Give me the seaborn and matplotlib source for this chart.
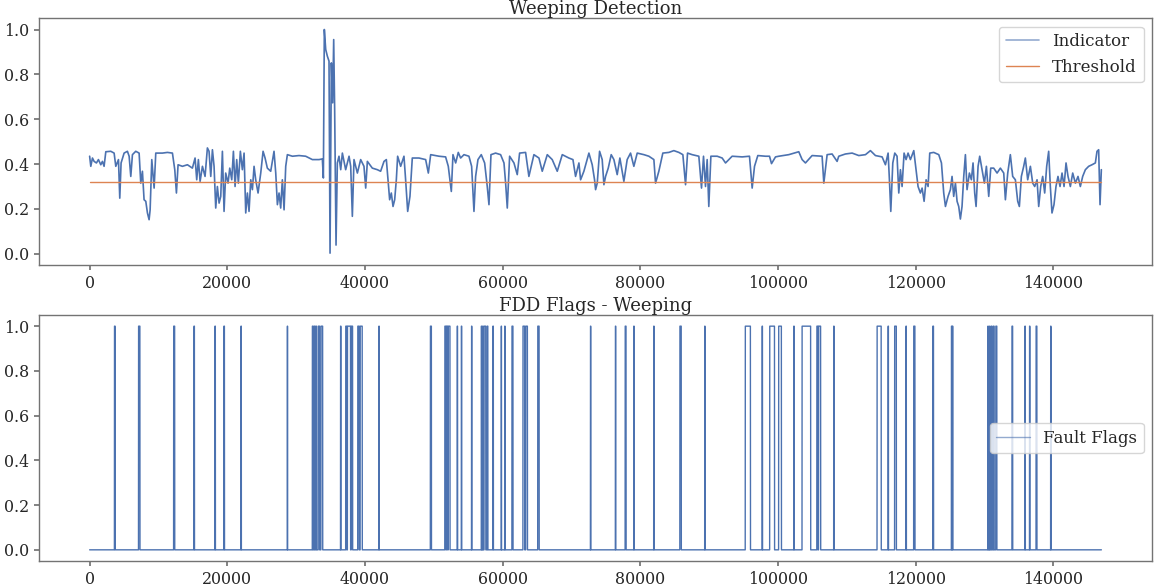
import numpy as np
import pandas as pd
import matplotlib
matplotlib.use("Agg")
import matplotlib.pyplot as plt
import seaborn as sns

# ---------------- data ----------------
N_SAMPLES = 147000
THRESHOLD = 0.32

# indicator sample positions (thousands of samples) and values
ind_x_k = [
    0, 0.17, 0.41, 0.65, 0.99, 1.28, 1.62, 1.86, 2.1, 2.35, 3.07, 3.56, 3.8, 4.19, 4.38, 4.57,
    5.01, 5.49, 5.74, 5.98, 6.22, 6.7, 7.19, 7.43, 7.67, 7.91, 8.16, 8.4, 8.64, 8.79, 9.03,
    9.37, 9.61, 10.58, 11.3, 12.03, 12.37, 12.61, 12.85, 13.48, 14.21, 14.93, 15.32, 15.56,
    15.8, 16.05, 16.39, 16.77, 17.11, 17.35, 17.6, 17.84, 18.08, 18.32, 18.56, 18.81, 19.05,
    19.29, 19.53, 19.77, 20.11, 20.36, 20.65, 20.89, 21.13, 21.37, 21.61, 21.9, 22.19, 22.44,
    22.68, 22.92, 23.16, 23.41, 23.65, 23.89, 24.13, 24.47, 24.86, 25.2, 25.49, 25.82, 26.31,
    26.79, 27.04, 27.28, 27.52, 27.76, 28.0, 28.25, 28.49, 28.73, 29.46, 30.42, 31.39, 32.36,
    33.33, 33.81, 33.96, 34.10, 34.30, 34.54, 34.78, 34.93, 35.12, 35.31, 35.46, 35.60, 35.80,
    35.99, 36.23, 36.48,
    36.72, 37.2, 37.69, 37.93, 38.17, 38.41, 38.9, 39.38, 39.86, 40.11, 40.35, 41.07, 41.8,
    42.28, 42.77, 43.11, 43.35, 43.59, 43.83, 44.08, 44.32, 44.56, 44.75, 45.19, 45.67, 45.91,
    46.21, 46.54, 46.88, 47.85, 48.82, 49.21, 49.55, 50.76, 51.72, 52.11, 52.35, 52.55, 52.79,
    53.18, 53.56, 53.9, 54.39, 55.11, 55.5, 55.84, 56.08, 56.42, 56.9, 57.39, 57.77, 58.02,
    58.31, 58.98, 59.71, 60.2, 60.44, 60.68, 61.02, 61.65, 62.13, 62.47, 63.34, 63.82, 64.55,
    65.28, 65.76, 66.49, 67.21, 67.94, 68.67, 69.63, 70.22, 70.6, 71.09,
    71.33, 71.81, 72.54, 73.02, 73.36, 73.51, 73.75, 74.09, 74.47, 74.72, 74.96, 75.35, 75.78,
    76.17, 76.65, 77.04, 77.62, 78.1, 78.59, 79.07, 79.56, 80.53, 81.25, 81.98, 82.22, 82.7,
    83.28, 84.16, 84.88, 85.61, 86.19, 86.58, 86.87, 87.54, 88.51, 88.9, 89.19, 89.48, 89.72,
    89.96, 90.26, 91.18, 91.9, 92.39, 92.87, 93.35, 94.81, 95.87, 96.26, 96.6, 97.08, 98.2,
    98.78, 99.07, 99.65, 100.13, 101.58, 103.03, 103.52, 104.0, 104.97, 106.42, 106.67, 107.15,
    107.87, 108.6,
    108.84, 109.81, 110.78, 111.75, 112.72, 113.44, 114.17, 115.14, 115.62, 116.01, 116.2,
    116.4, 116.69, 116.98, 117.31, 117.56, 117.8, 118.04, 118.33, 118.62, 118.91, 119.25,
    119.74, 120.12, 120.36, 120.7, 120.95, 121.24, 121.53, 121.82, 122.06, 122.64, 123.37,
    123.76, 124.09, 124.34, 124.72, 125.06, 125.3, 125.54, 125.79, 126.03, 126.27, 126.51,
    126.75, 127.0, 127.24, 127.48, 127.82, 128.11, 128.35, 128.59, 128.79, 129.08, 129.32,
    129.66, 130.0, 130.29, 130.63, 130.92, 131.35, 131.84, 132.32, 132.81, 133.05, 133.39,
    133.77, 134.11, 134.5, 134.84, 135.08, 135.37, 135.71, 135.95, 136.29, 136.68, 137.02,
    137.31, 137.65, 137.89, 138.18, 138.47, 138.76, 139.05, 139.34, 139.58, 139.82, 140.11,
    140.4, 140.69, 140.99, 141.28, 141.57, 141.86, 142.15, 142.49, 142.83, 143.22, 143.6,
    143.94, 144.28, 144.67, 145.15, 145.63, 146.12, 146.36, 146.6, 146.8, 146.99,
]
ind_vals = [
    .435, .39, .427, .412, .405, .42, .397, .412, .39, .455, .457, .449, .39, .42, .248, .405,
    .449, .457, .435, .345, .442, .457, .449, .315, .368, .241, .234, .182, .152, .196, .42,
    .293, .449, .449, .452, .449, .375, .271, .397, .39, .397, .382, .427, .33,
    .42, .323, .39, .345, .472, .457, .345, .464, .39, .204, .30, .226, .256,
    .457, .189, .36, .315, .382, .33, .457, .30, .42, .315, .457, .375, .449,
    .182, .271, .189, .33, .286, .39, .33, .271, .36, .457, .427, .382, .368,
    .457, .36, .219, .271, .204, .33, .196, .39, .442, .435, .438, .435, .42,
    .42, .423, .338, 1.0, .911, .881, .859, .003, .851, .673, .955, .643, .039,
    .405, .435, .375,
    .449, .375, .435, .39, .167, .42, .36, .42, .39, .293, .412, .382, .375,
    .368, .412, .42, .33, .241, .271, .211, .241, .33, .435, .39, .435, .33,
    .189, .256, .427, .427, .42, .36, .442, .435, .432, .39, .33, .278, .442,
    .405, .452, .427, .442, .435, .39, .189, .345, .42, .442, .405, .30, .219,
    .442, .449, .442, .405, .315, .204, .435, .405, .353, .449, .452, .345, .442,
    .427, .368, .442, .42, .368, .442, .427, .42, .345, .405,
    .33, .368, .449, .397, .33, .286, .315, .457, .42, .308, .345, .382, .442,
    .42, .353, .427, .323, .42, .449, .39, .449, .442, .435, .42, .315, .368,
    .449, .452, .46, .452, .442, .308, .449, .442, .435, .293, .435, .30, .42,
    .211, .435, .435, .427, .405, .42, .435, .432, .435, .293, .39, .438, .435,
    .435, .402, .432, .435, .442, .455, .42, .405, .438, .435, .315, .442,
    .445, .412,
    .435, .445, .449, .438, .442, .46, .438, .432, .397, .449, .33,
    .189, .405, .449, .435, .271, .375, .30, .449, .42, .449, .42,
    .46, .36, .30, .271, .293, .234, .33, .30, .449, .452, .442,
    .405, .271, .211, .256, .286, .345, .256, .315, .234, .211, .155,
    .211, .345, .442, .286, .36, .33, .405, .271, .211, .39, .435,
    .375, .315, .39, .256, .382, .382, .36, .382, .36, .241, .36,
    .442, .345, .33, .234, .211, .345, .39, .427, .33, .39, .315,
    .30, .33, .211, .30, .345, .271, .39, .457, .30, .182, .219,
    .30, .345, .30, .36, .30, .405, .345, .30, .36, .315, .345,
    .30, .345, .375, .39, .397, .405, .457, .464, .219, .375,
]

# fault-flag intervals (thousands of samples) where the flag equals 1
flag_start_k = [
    3.6, 7.1, 12.2, 15.15, 18.2, 19.5, 21.98, 28.72, 32.35, 32.6, 32.85, 33.2, 33.6, 36.45,
    37.2, 37.45, 38.0, 38.95, 39.3, 42.02, 49.5, 51.6, 51.85, 52.1, 53.4, 54.0, 55.48, 56.9,
    57.1, 57.3, 57.75, 58.58, 59.8, 60.3, 61.35, 62.95, 63.35, 65.1, 72.76, 76.38, 77.8, 79.05,
    81.95, 85.75, 89.36, 95.25, 97.7, 98.8, 100.1, 102.3, 103.5, 105.65, 105.9, 108.1, 114.4,
    116.0, 116.95, 118.6, 119.72, 122.5, 125.2, 125.35, 130.5, 130.75, 131.0, 131.3, 131.65,
    134.0, 135.88, 136.55, 137.5, 139.62,
]
flag_end_k = [
    3.7, 7.3, 12.35, 15.22, 18.26, 19.58, 22.03, 28.75, 32.45, 32.7, 32.95, 33.4, 33.85, 36.5,
    37.35, 37.9, 38.2, 39.15, 39.6, 42.06, 49.65, 51.75, 52.0, 52.35, 53.45, 54.05, 55.52, 56.95,
    57.15, 57.55, 57.85, 58.65, 59.83, 60.35, 61.5, 63.2, 63.6, 65.3, 72.8, 76.43, 77.93, 79.1,
    82.0, 85.95, 89.4, 96.0, 97.75, 99.5, 100.5, 102.35, 104.75, 105.8, 106.2, 108.15, 115.0,
    116.05, 117.2, 118.65, 119.9, 122.6, 125.25, 125.4, 130.55, 130.8, 131.1, 131.4, 131.8,
    134.1, 135.93, 136.6, 137.62, 139.66,
]

# ---------------- style ----------------
sns.set_theme(style="ticks")
plt.rcParams["font.family"] = ["DejaVu Serif"]
plt.rcParams.update({
    "axes.edgecolor": "0.45",
    "xtick.color": "0.45",
    "ytick.color": "0.45",
    "xtick.labelcolor": "0.15",
    "ytick.labelcolor": "0.15",
    "xtick.major.size": 3.5,
    "ytick.major.size": 3.5,
    "axes.linewidth": 1.0,
})
FS_TICK = 11.4
FS_TITLE = 13
FS_LEG = 12
blue, orange = sns.color_palette("deep")[0], sns.color_palette("deep")[1]

# ---------------- frames ----------------
ind_df = pd.DataFrame({"sample": np.array(ind_x_k) * 1000, "value": ind_vals})
thr_df = pd.DataFrame({"sample": [0, N_SAMPLES - 1], "value": [THRESHOLD, THRESHOLD]})

flags = np.zeros(N_SAMPLES)
for s, e in zip(flag_start_k, flag_end_k):
    flags[int(s * 1000):int(e * 1000) + 1] = 1.0
flag_df = pd.DataFrame({"sample": np.arange(N_SAMPLES), "flag": flags})

# ---------------- figure ----------------
fig = plt.figure(figsize=(11.55, 5.88), dpi=100)
ax1 = fig.add_axes([0.0338, 0.5493, 0.9636, 0.4196])
ax2 = fig.add_axes([0.0338, 0.0459, 0.9636, 0.4184])

sns.lineplot(data=ind_df, x="sample", y="value", ax=ax1, color=blue, lw=1.2,
             label="Indicator", estimator=None, sort=False)
sns.lineplot(data=thr_df, x="sample", y="value", ax=ax1, color=orange, lw=1.0,
             label="Threshold", estimator=None)
ax1.set_title("Weeping Detection", fontsize=FS_TITLE, pad=2)
leg1 = ax1.legend(loc="upper right", fontsize=FS_LEG, frameon=True)
leg1.get_lines()[0].set_alpha(0.6)

sns.lineplot(data=flag_df, x="sample", y="flag", ax=ax2, color=blue, lw=1.0,
             label="Fault Flags", estimator=None, sort=False)
ax2.set_title("FDD Flags - Weeping", fontsize=FS_TITLE, pad=2)
leg2 = ax2.legend(loc="center right", fontsize=FS_LEG, frameon=True)
leg2.get_lines()[0].set_alpha(0.6)

for ax in (ax1, ax2):
    ax.set_xlabel("")
    ax.set_ylabel("")
    ax.set_xlim(-0.05 * N_SAMPLES, 1.05 * N_SAMPLES)
    ax.set_ylim(-0.05, 1.05)
    ax.set_xticks([0, 20000, 40000, 60000, 80000, 100000, 120000, 140000])
    ax.set_yticks([0.0, 0.2, 0.4, 0.6, 0.8, 1.0])
    ax.tick_params(labelsize=FS_TICK)
    for sp in ax.spines.values():
        sp.set_visible(True)

fig.savefig("out.png", dpi=100)
